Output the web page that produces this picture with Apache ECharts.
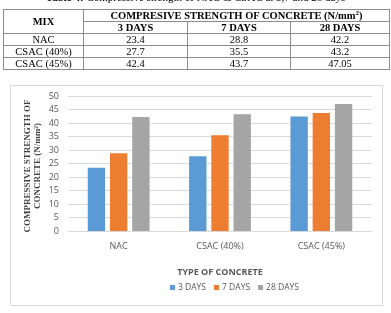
<!DOCTYPE html>
<html><head><meta charset="utf-8">
<script src="https://cdn.jsdelivr.net/npm/echarts@6/dist/echarts.min.js"></script>
<style>
html,body{margin:0;padding:0;background:#fff;width:391px;height:313px;overflow:hidden;}
#chart{position:absolute;left:0;top:0;width:391px;height:313px;}
#cap{position:absolute;left:0;width:391px;top:-9px;text-align:center;font:11px "Liberation Serif",serif;color:#000;white-space:nowrap;}
#tbl{position:absolute;left:3px;top:9px;border-collapse:collapse;font:10.5px "Liberation Serif",serif;color:#000;z-index:2;}
#tbl td,#tbl th{border:1px solid #8c8c8c;padding:0;height:11px;line-height:11px;text-align:center;}
#tbl th{font-weight:bold;}
</style></head>
<body>
<div id="chart"></div>
<div id="cap"><b>Table 4:</b> Compressive strength of NAC &amp; CSAC at 3,7 and 28 days</div>
<table id="tbl"></table>
<script>
const categories = ['NAC', 'CSAC (40%)', 'CSAC (45%)'];
const seriesNames = ['3 DAYS', '7 DAYS', '28 DAYS'];
const days3 = [23.4, 27.7, 42.4];
const days7 = [28.8, 35.5, 43.7];
const days28 = [42.2, 43.2, 47.05];
const yTicks = [0, 5, 10, 15, 20, 25, 30, 35, 40, 45, 50];
const colors = ['#5b9bd5', '#ed7d31', '#a5a5a5'];

// table
const tbl = document.getElementById('tbl');
const colW = [80, 104, 103, 99];
let html = '<colgroup>' + colW.map(w => '<col style="width:' + w + 'px">').join('') + '</colgroup>';
html += '<tr><th rowspan="2" style="height:23px">MIX</th><th colspan="3">COMPRESIVE STRENGTH OF CONCRETE (N/mm<sup style="font-size:7px;line-height:0">2</sup>)</th></tr>';
html += '<tr>' + seriesNames.map(s => '<th>' + s + '</th>').join('') + '</tr>';
const all = [days3, days7, days28];
categories.forEach((c, i) => {
  html += '<tr><td>' + c + '</td>' + all.map(a => '<td>' + a[i] + '</td>').join('') + '</tr>';
});
tbl.innerHTML = html;

const chart = echarts.init(document.getElementById('chart'), null, {renderer: 'canvas'});
const sansFont = '"Open Sans", "Liberation Sans", sans-serif';
chart.setOption({
  animation: false,
  backgroundColor: '#fff',
  color: colors,
  grid: {left: 68, right: 19, top: 96, bottom: 82, containLabel: false},
  legend: {
    data: seriesNames, top: 283, left: 170, itemWidth: 5, itemHeight: 5, itemGap: 8,
    icon: 'rect', textStyle: {fontSize: 8.5, color: '#595959', fontFamily: sansFont, padding: [0, 0, 0, -2]}, padding: 0
  },
  xAxis: {
    type: 'category', data: categories,
    axisLine: {lineStyle: {color: '#d9d9d9'}}, axisTick: {show: false},
    axisLabel: {fontSize: 9, color: '#595959', fontFamily: sansFont, margin: 11},
    name: 'TYPE OF CONCRETE', nameLocation: 'middle', nameGap: 37,
    nameTextStyle: {fontSize: 9, fontWeight: 'bold', color: '#595959', fontFamily: sansFont}
  },
  yAxis: {
    type: 'value', min: yTicks[0], max: yTicks[yTicks.length - 1], interval: yTicks[1] - yTicks[0],
    axisLine: {show: false}, axisTick: {show: false},
    splitLine: {lineStyle: {color: '#d9d9d9', width: 1}},
    axisLabel: {fontSize: 9, color: '#595959', fontFamily: sansFont, margin: 9}
  },
  graphic: [
    {type: 'rect', shape: {x: 10.5, y: 85.5, width: 372, height: 220}, style: {fill: 'none', stroke: '#d9d9d9', lineWidth: 1}, z: -1},
    {type: 'text', x: 33, y: 166, rotation: Math.PI / 2, style: {
      text: 'COMPRESSIVE STRENGTH OF\nCONCRETE (N/mm²)', align: 'center', verticalAlign: 'middle',
      font: 'bold 9px "Liberation Serif", serif', fill: '#404040', lineHeight: 10
    }}
  ],
  series: [
    {name: seriesNames[0], type: 'bar', data: days3, barGap: '28%', barCategoryGap: '39%'},
    {name: seriesNames[1], type: 'bar', data: days7, barGap: '28%', barCategoryGap: '39%'},
    {name: seriesNames[2], type: 'bar', data: days28, barGap: '28%', barCategoryGap: '39%'}
  ]
});
</script>
</body></html>
